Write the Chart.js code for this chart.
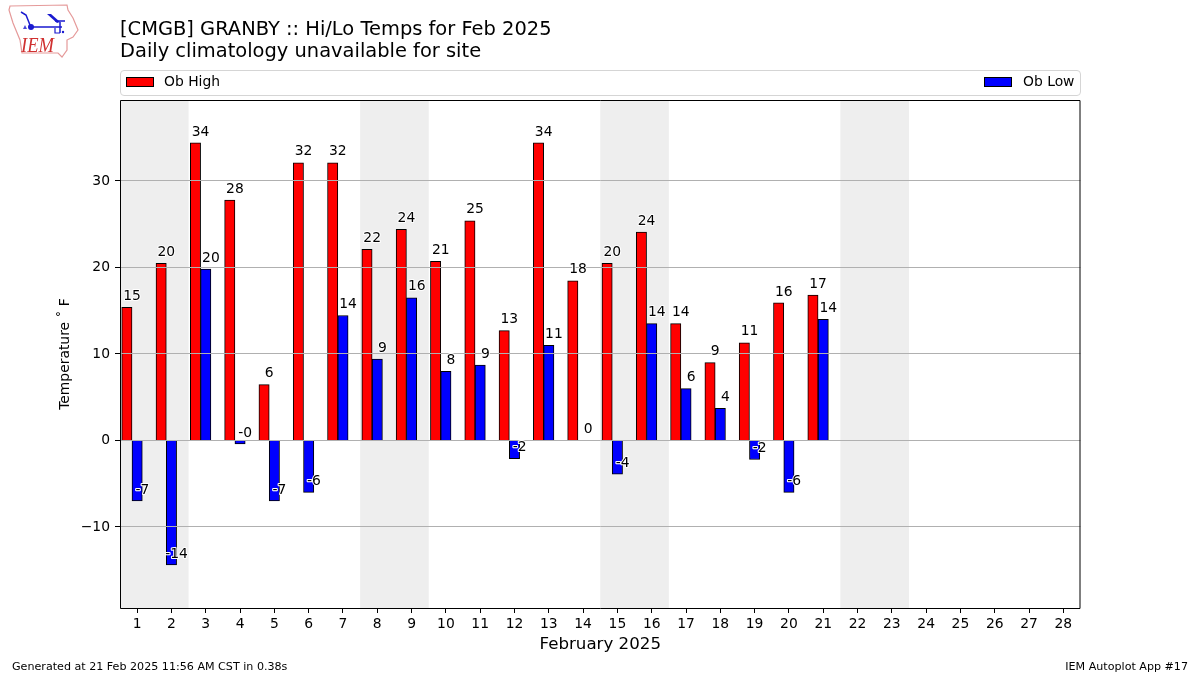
<!DOCTYPE html>
<html>
<head>
<meta charset="utf-8">
<title>Hi/Lo Temps</title>
<script src="https://cdn.jsdelivr.net/npm/chart.js@4"></script>
<style>
  body { margin: 0; background: #fff; font-family: "DejaVu Sans", sans-serif; color: #000; }
  #wrap { position: relative; width: 1200px; height: 675px; overflow: hidden; }
  #skillCanvas { position: absolute; left: 0; top: 0; }
  .txt { position: absolute; white-space: nowrap; }
  #title { left: 120px; top: 18px; font-size: 19.44px; line-height: 22px; }
  #legendBox { position: absolute; left: 120px; top: 70px; width: 959px; height: 24px; border: 1px solid #d5d5d5; border-radius: 4px; }
  .swatch { position: absolute; top: 77px; width: 26px; height: 8px; border: 1px solid #000; }
  .legendText { top: 72px; font-size: 13.89px; line-height: 18px; }
  .foot { top: 660px; font-size: 11.11px; line-height: 14px; }
  #logo { position: absolute; left: 0; top: 0; }
</style>
</head>
<body>
<div id="wrap">
  <canvas id="skillCanvas" width="1200" height="675"></canvas>
  <svg id="logo" width="100" height="70" viewBox="0 0 100 70">
    <path d="M9 10 L10 6 L67 5 L68 10 L73 18 L78 30 L73 37 L67 40 L67 50 L62 57 L58 53 L22 53 L20 40 L13 23 Z" fill="none" stroke="#e59a9a" stroke-width="1.2"/>
    <path d="M31 27 H62 M55 21 H65 M60 22 V33 M21 12 L26 15 L30 25" fill="none" stroke="#1a1ad0" stroke-width="1.5"/>
    <circle cx="31" cy="27" r="3" fill="#1a1ad0"/>
    <path d="M47 14 L51 14 L60 22 L57 23 Z" fill="#1a1ad0"/>
    <path d="M25 25 L27 29 L23 29 Z" fill="#4a4ad8"/>
    <path d="M55 28 V33 H60" fill="none" stroke="#1a1ad0" stroke-width="1.2"/>
    <circle cx="63" cy="32" r="1.2" fill="#1a1ad0"/>
    <text x="21" y="52" font-family="Liberation Serif" font-style="italic" font-size="21" textLength="33" lengthAdjust="spacingAndGlyphs" fill="#d03030">IEM</text>
  </svg>
  <div id="title" class="txt"></div>
  <div id="legendBox"></div>
  <div id="swatchHigh" class="swatch" style="left:126px"></div>
  <div id="labelHigh" class="txt legendText" style="left:164px"></div>
  <div id="swatchLow" class="swatch" style="left:984px"></div>
  <div id="labelLow" class="txt legendText" style="left:1023px"></div>
  <div class="txt foot" style="left:12px">Generated at 21 Feb 2025 11:56 AM CST in 0.38s</div>
  <div class="txt foot" style="right:12px">IEM Autoplot App #17</div>
</div>
<script>
const titleLines = ['[CMGB] GRANBY :: Hi/Lo Temps for Feb 2025', 'Daily climatology unavailable for site'];
const days = [1, 2, 3, 4, 5, 6, 7, 8, 9, 10, 11, 12, 13, 14, 15, 16, 17, 18, 19, 20, 21, 22, 23, 24, 25, 26, 27, 28];
const obHigh = [15.4, 20.49, 34.4, 27.8, 6.45, 32.1, 32.1, 22.1, 24.4, 20.7, 25.4, 12.7, 34.4, 18.45, 20.49, 24.1, 13.5, 9, 11.3, 15.9, 16.8];
const obLow = [-7, -14.4, 19.8, -0.4, -7, -6, 14.45, 9.4, 16.49, 8, 8.7, -2.1, 11, 0, -3.9, 13.5, 6, 3.7, -2.2, -6, 14];
const yTickValues = [-10, 0, 10, 20, 30];
const weekendSpans = [[0.5, 2.5], [7.5, 9.5], [14.5, 16.5], [21.5, 23.5]];
const highName = 'Ob High';
const lowName = 'Ob Low';
const highColor = '#ff0000';
const lowColor = '#0000ff';

document.getElementById('title').innerHTML = titleLines.join('<br>');
document.getElementById('labelHigh').textContent = highName;
document.getElementById('labelLow').textContent = lowName;
document.getElementById('swatchHigh').style.background = highColor;
document.getElementById('swatchLow').style.background = lowColor;

const font = 'DejaVu Sans';

// grey weekend bands go under everything
const weekendBands = {
  id: 'weekendBands',
  beforeDraw(chart) {
    const { ctx, chartArea, scales } = chart;
    ctx.save();
    ctx.fillStyle = '#eeeeee';
    weekendSpans.forEach(([a, b]) => {
      const x0 = scales.x.getPixelForValue(a);
      const x1 = scales.x.getPixelForValue(b);
      ctx.fillRect(x0, chartArea.top, x1 - x0, chartArea.bottom - chartArea.top);
    });
    ctx.restore();
  }
};

// value labels and the plot frame
const barLabels = {
  id: 'barLabels',
  afterDraw(chart) {
    const { ctx, chartArea, scales } = chart;
    ctx.save();
    ctx.font = `13.89px "${font}"`;
    ctx.textAlign = 'center';
    ctx.textBaseline = 'middle';
    ctx.lineJoin = 'round';
    const put = (values, shift) => {
      values.forEach((v, i) => {
        const x = scales.x.getPixelForValue(days[i] + shift);
        const y = scales.y.getPixelForValue(v) - 11;
        const s = v.toFixed(0);
        ctx.strokeStyle = '#fff';
        ctx.lineWidth = 2;
        ctx.strokeText(s, x, y);
        ctx.fillStyle = '#000';
        ctx.fillText(s, x, y);
      });
    };
    put(obHigh, -0.15);
    put(obLow, 0.15);
    ctx.strokeStyle = '#000';
    ctx.lineWidth = 1;
    ctx.strokeRect(chartArea.left + 0.5, chartArea.top + 0.5, chartArea.right - chartArea.left - 1, chartArea.bottom - chartArea.top);
    ctx.restore();
  }
};

new Chart(document.getElementById('skillCanvas').getContext('2d'), {
  type: 'bar',
  data: {
    datasets: [
      {
        label: highName,
        data: obHigh.map((v, i) => ({ x: days[i] - 0.3, y: v })),
        backgroundColor: highColor
      },
      {
        label: lowName,
        data: obLow.map((v, i) => ({ x: days[i], y: v })),
        backgroundColor: lowColor
      }
    ]
  },
  options: {
    responsive: false,
    animation: false,
    devicePixelRatio: 1,
    layout: { padding: { left: 57, right: 119.5, top: 100, bottom: 20 } },
    datasets: { bar: { grouped: false, barThickness: 10.3, borderColor: '#000', borderWidth: 1 } },
    plugins: { legend: { display: false }, tooltip: { enabled: false } },
    scales: {
      x: {
        type: 'linear',
        min: 0.5,
        max: 28.5,
        offset: false,
        afterBuildTicks: scale => { scale.ticks = days.map(d => ({ value: d })); },
        afterFit: scale => { scale.height = 47; },
        ticks: { autoSkip: false, maxRotation: 0, padding: 3, color: '#000', font: { family: font, size: 13.89 }, callback: v => String(v) },
        grid: { offset: false, drawOnChartArea: false, tickColor: '#000', tickLength: 5 },
        border: { display: false },
        title: { display: true, text: 'February 2025', color: '#000', font: { family: font, size: 16.67 }, padding: { top: 0, bottom: 0 } }
      },
      y: {
        min: -19.37,
        max: 39.36,
        afterBuildTicks: scale => { scale.ticks = yTickValues.map(v => ({ value: v })); },
        afterFit: scale => { scale.width = 63; },
        ticks: { padding: 5, color: '#000', font: { family: font, size: 13.89 }, callback: v => String(v).replace('-', '\u2212') },
        grid: { offset: false, color: '#b0b0b0', tickColor: '#000', tickLength: 5, z: 1 },
        border: { display: false },
        title: { display: true, text: 'Temperature \u02da F', color: '#000', font: { family: font, size: 13.89 }, padding: 0 }
      }
    }
  },
  plugins: [weekendBands, barLabels]
});
</script>
</body>
</html>
